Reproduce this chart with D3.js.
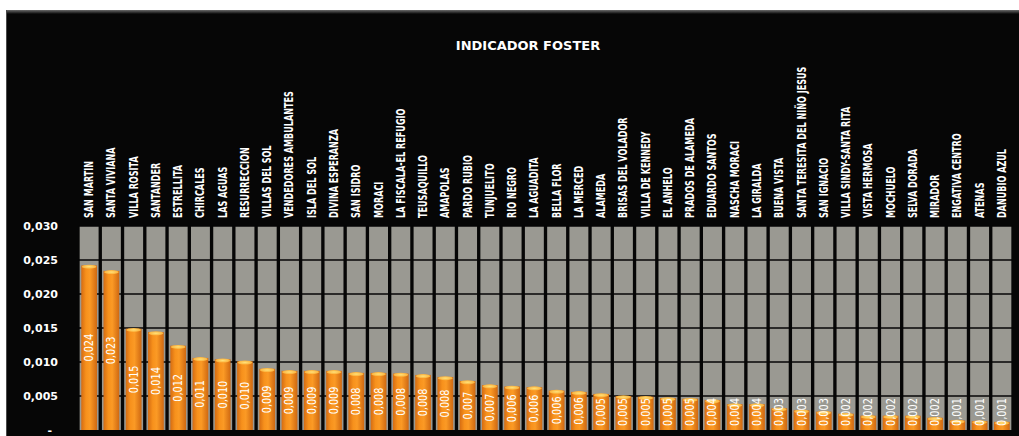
<!DOCTYPE html>
<html>
<head>
<meta charset="utf-8">
<script src="https://cdn.jsdelivr.net/npm/d3@7"></script>
<style>
  body { margin: 0; background: #fff; }
  svg { display: block; }
</style>
</head>
<body>
<svg id="chart" width="1019" height="436"></svg>
<script>
const title = "INDICADOR FOSTER"

const barrios = [
  "SAN MARTIN", "SANTA VIVIANA", "VILLA ROSITA", "SANTANDER", "ESTRELLITA",
  "CHIRCALES", "LAS AGUAS", "RESURRECCION", "VILLAS DEL SOL", "VENDEDORES AMBULANTES",
  "ISLA DEL SOL", "DIVINA ESPERANZA", "SAN ISIDRO", "MORACI", "LA FISCALA-EL REFUGIO",
  "TEUSAQUILLO", "AMAPOLAS", "PARDO RUBIO", "TUNJUELITO", "RIO NEGRO",
  "LA AGUADITA", "BELLA FLOR", "LA MERCED", "ALAMEDA", "BRISAS DEL VOLADOR",
  "VILLA DE KENNEDY", "EL ANHELO", "PRADOS DE ALAMEDA", "EDUARDO SANTOS", "NASCHA MORACI",
  "LA GIRALDA", "BUENA VISTA", "SANTA TERESITA DEL NIÑO JESUS", "SAN IGNACIO", "VILLA SINDY-SANTA RITA",
  "VISTA HERMOSA", "MOCHUELO", "SELVA DORADA", "MIRADOR", "ENGATIVA CENTRO",
  "ATENAS", "DANUBIO AZUL"
]

const foster = [
  0.0242, 0.0234, 0.0149, 0.0144, 0.0124,
  0.0106, 0.0104, 0.0101, 0.0090, 0.0087,
  0.0087, 0.0087, 0.0084, 0.0084, 0.0083,
  0.0081, 0.0078, 0.0072, 0.0066, 0.0064,
  0.0063, 0.0058, 0.0056, 0.0053, 0.0050,
  0.0049, 0.0047, 0.0046, 0.0044, 0.0038,
  0.0038, 0.0032, 0.0029, 0.0027, 0.0024,
  0.0021, 0.0021, 0.0021, 0.0018, 0.0014,
  0.0013, 0.0012
]

const yTicks = [0, 0.005, 0.010, 0.015, 0.020, 0.025, 0.030]
const yMax = 0.030

const W = 1019, H = 436
const plot = { left: 78, right: 1013, top: 226, bottom: 430 }

const svg = d3.select("#chart")
const defs = svg.append("defs")

// background panel with a soft top highlight
const topGrad = defs.append("linearGradient").attr("id", "topEdge")
  .attr("x1", 0).attr("y1", 0).attr("x2", 0).attr("y2", 1)
topGrad.append("stop").attr("offset", "0%").attr("stop-color", "#6a6a6a")
topGrad.append("stop").attr("offset", "100%").attr("stop-color", "#070707")

svg.append("rect").attr("x", 6).attr("y", 10).attr("width", W - 6).attr("height", H - 10)
  .attr("fill", "#060606")
svg.append("rect").attr("x", 6).attr("y", 10).attr("width", W - 6).attr("height", 4)
  .attr("fill", "url(#topEdge)")
svg.append("line").attr("x1", 6.5).attr("x2", 6.5).attr("y1", 10).attr("y2", H)
  .attr("stroke", "#4a4a4a")

// orange cylinder-ish gradient
const barGrad = defs.append("linearGradient").attr("id", "barFill")
  .attr("x1", 0).attr("y1", 0).attr("x2", 1).attr("y2", 0)
barGrad.append("stop").attr("offset", "0%").attr("stop-color", "#d56c12")
barGrad.append("stop").attr("offset", "30%").attr("stop-color", "#f7911c")
barGrad.append("stop").attr("offset", "55%").attr("stop-color", "#fb9a25")
barGrad.append("stop").attr("offset", "100%").attr("stop-color", "#cf6811")

const capGrad = defs.append("radialGradient").attr("id", "capFill")
capGrad.append("stop").attr("offset", "0%").attr("stop-color", "#ffe27a")
capGrad.append("stop").attr("offset", "100%").attr("stop-color", "#fbb03a")

const x = d3.scaleBand()
  .domain(barrios)
  .range([plot.left, plot.right])
  .paddingInner(0.15)
  .paddingOuter(0.075)

const y = d3.scaleLinear()
  .domain([0, yMax])
  .range([plot.bottom, plot.top])

// grey columns, full height
svg.append("g").selectAll("rect")
  .data(barrios)
  .join("rect")
  .attr("x", d => x(d))
  .attr("y", y(yMax))
  .attr("width", x.bandwidth())
  .attr("height", y(0) - y(yMax))
  .attr("fill", "#9a9992")

// black gridlines across the columns
svg.append("g").selectAll("line")
  .data(yTicks.slice(1))
  .join("line")
  .attr("x1", plot.left)
  .attr("x2", plot.right)
  .attr("y1", d => y(d))
  .attr("y2", d => y(d))
  .attr("stroke", "#060606")
  .attr("stroke-width", 1.5)

// orange bars
const inset = 1.6
const bw = x.bandwidth() - inset * 2
const bars = svg.append("g").selectAll("g")
  .data(barrios.map((b, i) => ({ name: b, v: foster[i] })))
  .join("g")
  .attr("transform", d => `translate(${x(d.name) + inset},0)`)

bars.append("rect")
  .attr("x", 0)
  .attr("y", d => y(d.v))
  .attr("width", bw)
  .attr("height", d => y(0) - y(d.v))
  .attr("fill", "url(#barFill)")

bars.append("ellipse")
  .attr("cx", bw / 2)
  .attr("cy", d => y(d.v) + 1.2)
  .attr("rx", bw / 2 - 0.5)
  .attr("ry", 2)
  .attr("fill", "url(#capFill)")

// value labels, rotated, centred in the bar but kept above the axis
const fmt = v => d3.format(".3f")(v).replace(".", ",")
bars.append("text")
  .attr("transform", d => {
    const cy = Math.min((y(d.v) + y(0)) / 2, 412)
    return `translate(${bw / 2 + 4},${cy}) rotate(-90) scale(0.9,1)`
  })
  .attr("text-anchor", "middle")
  .attr("fill", "#fff")
  .style("font", "12px 'DejaVu Sans Condensed', sans-serif")
  .text(d => fmt(d.v))

// category labels above the plot, squeezed like the narrow original font
svg.append("g").selectAll("text")
  .data(barrios)
  .join("text")
  .attr("transform", d => `translate(${x(d) + x.bandwidth() / 2 + 4},218) rotate(-90) scale(0.75,1)`)
  .attr("text-anchor", "start")
  .attr("fill", "#fff")
  .style("font", "bold 12px 'DejaVu Sans Condensed', sans-serif")
  .text(d => d)

// y axis labels
svg.append("g").selectAll("text")
  .data(yTicks)
  .join("text")
  .attr("x", d => d === 0 ? 52 : 58)
  .attr("y", d => y(d) + 4)
  .attr("text-anchor", "end")
  .attr("fill", "#fff")
  .style("font", "bold 11px 'DejaVu Sans', sans-serif")
  .text(d => d === 0 ? "-" : fmt(d))

svg.append("text")
  .attr("x", 528)
  .attr("y", 50)
  .attr("text-anchor", "middle")
  .attr("fill", "#fff")
  .style("font", "bold 13px 'DejaVu Sans', sans-serif")
  .text(title)
</script>
</body>
</html>
